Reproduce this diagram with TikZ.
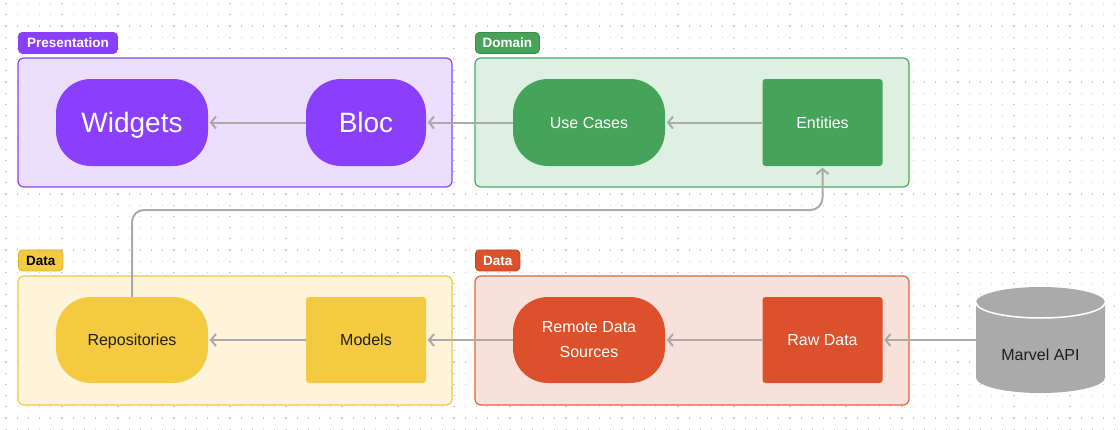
\documentclass[tikz,border=0pt]{standalone}
\usepackage{fontspec}
\setmainfont{Liberation Sans}
\usetikzlibrary{arrows.meta}
\definecolor{purp}{HTML}{8A3FFC}
\definecolor{purpbg}{HTML}{EBDFFD}
\definecolor{purpln}{HTML}{8B45F5}
\definecolor{grn}{HTML}{46A35A}
\definecolor{grnbg}{HTML}{DDF0E2}
\definecolor{grnln}{HTML}{4AAA5E}
\definecolor{yel}{HTML}{F4CA40}
\definecolor{yelbg}{HTML}{FDF4DA}
\definecolor{yelln}{HTML}{F2C94C}
\definecolor{yellab}{HTML}{D9AE2C}
\definecolor{red}{HTML}{DC512B}
\definecolor{redbg}{HTML}{F8E1DA}
\definecolor{redln}{HTML}{E0643F}
\definecolor{redlab}{HTML}{C2441F}
\definecolor{conn}{HTML}{AAAAAA}
\definecolor{dotc}{HTML}{CACACA}
\definecolor{darktext}{HTML}{1E1E1E}
\tikzset{
  container/.style={draw, line width=1.2pt, rounded corners=6pt},
  tag/.style={anchor=north west, rounded corners=4pt, line width=0.8pt, inner sep=0pt,
    minimum height=21pt, text depth=0pt, font=\fontsize{13.5}{14}\selectfont\bfseries, text=white},
  pill/.style={rounded corners=35pt, minimum width=152pt, minimum height=87pt, inner sep=0pt},
  smallpill/.style={rounded corners=35pt, minimum width=120pt, minimum height=87pt, inner sep=0pt},
  boxnode/.style={rounded corners=3pt, minimum width=120pt, minimum height=87pt, inner sep=0pt},
  bigtext/.style={font=\fontsize{28}{30}\selectfont, text=white, text depth=0pt},
  midtext/.style={font=\fontsize{16}{25}\selectfont, align=center},
  onetext/.style={midtext, text depth=0pt},
  arr/.style={draw=conn, line width=2pt, -{Straight Barb[length=5pt,width=12pt,line width=2pt]}, shorten >=1.5pt},
}
\begin{document}
\begin{tikzpicture}[x=1pt,y=-1pt]
\useasboundingbox (0,0) rectangle (1120,429);
\fill[white] (0,0) rectangle (1120,429);
% dot grid
\foreach \i in {0,...,99}{
  \foreach \j in {0,...,38}{
    \fill[dotc] ({6+11.2*\i-0.6},{3.5+11.2*\j-0.6}) rectangle ++(1.2,1.2);
  }
}
% containers
\draw[container, draw=purpln, fill=purpbg] (18,58) rectangle (452,187);
\draw[container, draw=grnln, fill=grnbg] (475,58) rectangle (909,187);
\draw[container, draw=yelln, fill=yelbg] (18,276) rectangle (452,405);
\draw[container, draw=redln, fill=redbg] (475,276) rectangle (909,405);
% tags
\node[tag, fill=purp, draw=purp, minimum width=99pt] (tpres) at (18,32) {Presentation};
\node[tag, fill=grn, draw=grn!85!black, minimum width=64pt] (tdom) at (475,32) {Domain};
\node[tag, fill=yel, draw=yellab, minimum width=44.5pt, text=black] (tdata1) at (18,249.5) {Data};
\node[tag, fill=red, draw=redlab, minimum width=44.5pt] (tdata2) at (475,249.5) {Data};
% nodes
\node[pill, fill=purp, bigtext] (widgets) at (132,122.5) {Widgets};
\node[smallpill, fill=purp, bigtext] (bloc) at (366,122.5) {Bloc};
\node[pill, fill=grn, onetext, text=white] (usecases) at (589,122.5) {Use Cases};
\node[boxnode, fill=grn, onetext, text=white] (entities) at (822.5,122.5) {Entities};
\node[pill, fill=yel, onetext, text=darktext, minimum height=86pt] (repo) at (132,340) {Repositories};
\node[boxnode, fill=yel, onetext, text=darktext, minimum height=86pt] (models) at (366,340) {Models};
\node[pill, fill=red, midtext, text=white, minimum height=86pt] (remote) at (589,340) {Remote Data\\Sources};
\node[boxnode, fill=red, onetext, text=white, minimum height=86pt] (raw) at (822.5,340) {Raw Data};
% cylinder
\fill[conn] (976,302.5) -- (976,377.5) arc[start angle=180, end angle=0, x radius=64.5, y radius=15.5]
  -- (1105,302.5) arc[start angle=0, end angle=-180, x radius=64.5, y radius=15.5] -- cycle;
\draw[white, line width=1.5pt] (976,302.5) arc[start angle=180, end angle=0, x radius=64.5, y radius=15.5];
\node[inner sep=0pt, minimum width=129pt, minimum height=76pt] (api) at (1040.5,340) {};
\node[onetext, text=darktext] (apilabel) at (1040.5,355) {Marvel API};
% connectors
\draw[arr] (bloc.west) -- (widgets.east);
\draw[arr] (usecases.west) -- (bloc.east);
\draw[arr] (entities.west) -- (usecases.east);
\draw[arr] (models.west) -- (repo.east);
\draw[arr] (remote.west) -- (models.east);
\draw[arr] (raw.west) -- (remote.east);
\draw[arr] (api.west) -- (raw.east);
\coordinate (bend) at (0,210);
\draw[arr, rounded corners=12pt] (repo.north) -- (repo.north |- bend) -| (entities.south);
\end{tikzpicture}
\end{document}
